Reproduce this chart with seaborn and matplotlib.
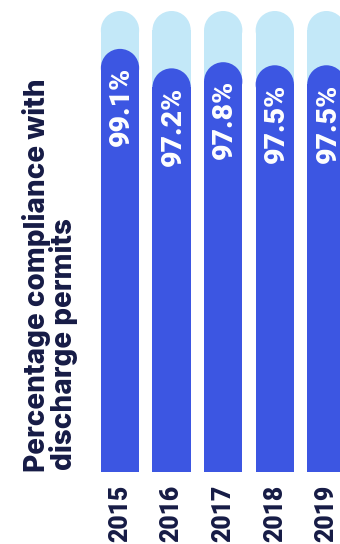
import matplotlib
matplotlib.use('Agg')
import matplotlib.pyplot as plt
import seaborn as sns
import pandas as pd
from matplotlib.patches import Ellipse

# ---- data ----
years = ['2015', '2016', '2017', '2018', '2019']
compliance = [99.1, 97.2, 97.8, 97.5, 97.5]
value_labels = ['99.1%', '97.2%', '97.8%', '97.5%', '97.5%']
ylabel_lines = ['Percentage compliance with', 'discharge permits']

# ---- style ----
DARK = '#3C56E2'
LIGHT = '#C3E8F8'
NAVY = '#161B45'
W, H, DPI = 340, 544, 100

sns.set_theme(style='white')
plt.rcParams['font.family'] = ['Roboto', 'DejaVu Sans']

fig = plt.figure(figsize=(W / DPI, H / DPI), dpi=DPI)
fig.patch.set_facecolor('white')

# axes geometry in pixels (from top-left)
step = 51.6
c0 = 120.0
ax_left = c0 - step / 2
ax_right = c0 + step * 4.5
ax_bottom = 471.7
ax_top = 11.0
ax = fig.add_axes([ax_left / W, 1 - ax_bottom / H,
                   (ax_right - ax_left) / W, (ax_bottom - ax_top) / H])

Y0, Y1 = 57.8, 102.8
bar_w = 0.742

df = pd.DataFrame({'year': years, 'compliance': compliance})
track = pd.DataFrame({'year': years, 'full': [Y1] * len(years)})

sns.barplot(data=track, x='year', y='full', color=LIGHT, saturation=1,
            width=bar_w, errorbar=None, linewidth=0, ax=ax)
sns.barplot(data=df, x='year', y='compliance', color=DARK, saturation=1,
            width=bar_w, errorbar=None, linewidth=0, ax=ax)

ax.set_xlim(-0.5, 4.5)
ax.set_ylim(Y0, Y1)

# pixel scale
p0 = ax.transData.transform((0, Y0))
p1 = ax.transData.transform((1, Y0 + 1))
px_x = p1[0] - p0[0]
px_y = p1[1] - p0[1]

n = len(years)
patches = list(ax.patches)
for k, p in enumerate(patches):
    z = 1 if k < n else 2
    x, w, top = p.get_x(), p.get_width(), p.get_y() + p.get_height()
    r_data = (w * px_x / 2) / px_y
    p.set_height(top - r_data - p.get_y())
    p.set_zorder(z)
    e = Ellipse((x + w / 2, top - r_data), w, 2 * r_data,
                facecolor=p.get_facecolor(), edgecolor='none', zorder=z)
    ax.add_patch(e)

# value labels
dark_bars = patches[n:]
for p, lab, v in zip(dark_bars, value_labels, compliance):
    ax.annotate(lab, xy=(p.get_x() + p.get_width() / 2, v),
                xytext=(1.5, -18), textcoords='offset pixels',
                rotation=90, ha='center', va='top', color='white',
                fontsize=20.5, fontweight='heavy', zorder=5)

# axes cosmetics
ax.set_xlabel('')
ax.set_ylabel('')
ax.set_yticks([])
ax.set_xticks(range(n))
ax.set_xticklabels(years, rotation=90, fontsize=17.8, fontweight='heavy',
                   color=NAVY)
ax.tick_params(axis='x', length=0, pad=9.5)
for s in ax.spines.values():
    s.set_visible(False)
ax.set_facecolor('none')

# y label (two lines, rotated)
lab_font = ['Inter', 'Roboto', 'DejaVu Sans']
t1 = fig.text(45 / W, 1 - 471.7 / H, ylabel_lines[0], rotation=90,
              rotation_mode='anchor', ha='left', va='baseline',
              fontsize=19, fontweight='heavy', color=NAVY, family=lab_font)
t2 = fig.text(71.7 / W, 1 - 470.5 / H, ylabel_lines[1], rotation=90,
              rotation_mode='anchor', ha='left', va='baseline',
              fontsize=19, fontweight='heavy', color=NAVY, family=lab_font)
r = fig.canvas.get_renderer()
L = t1.get_window_extent(r).height
fs = t1.get_fontsize() * 392.0 / L
t1.set_fontsize(fs)
t2.set_fontsize(fs)

fig.savefig('out.png', dpi=DPI)
